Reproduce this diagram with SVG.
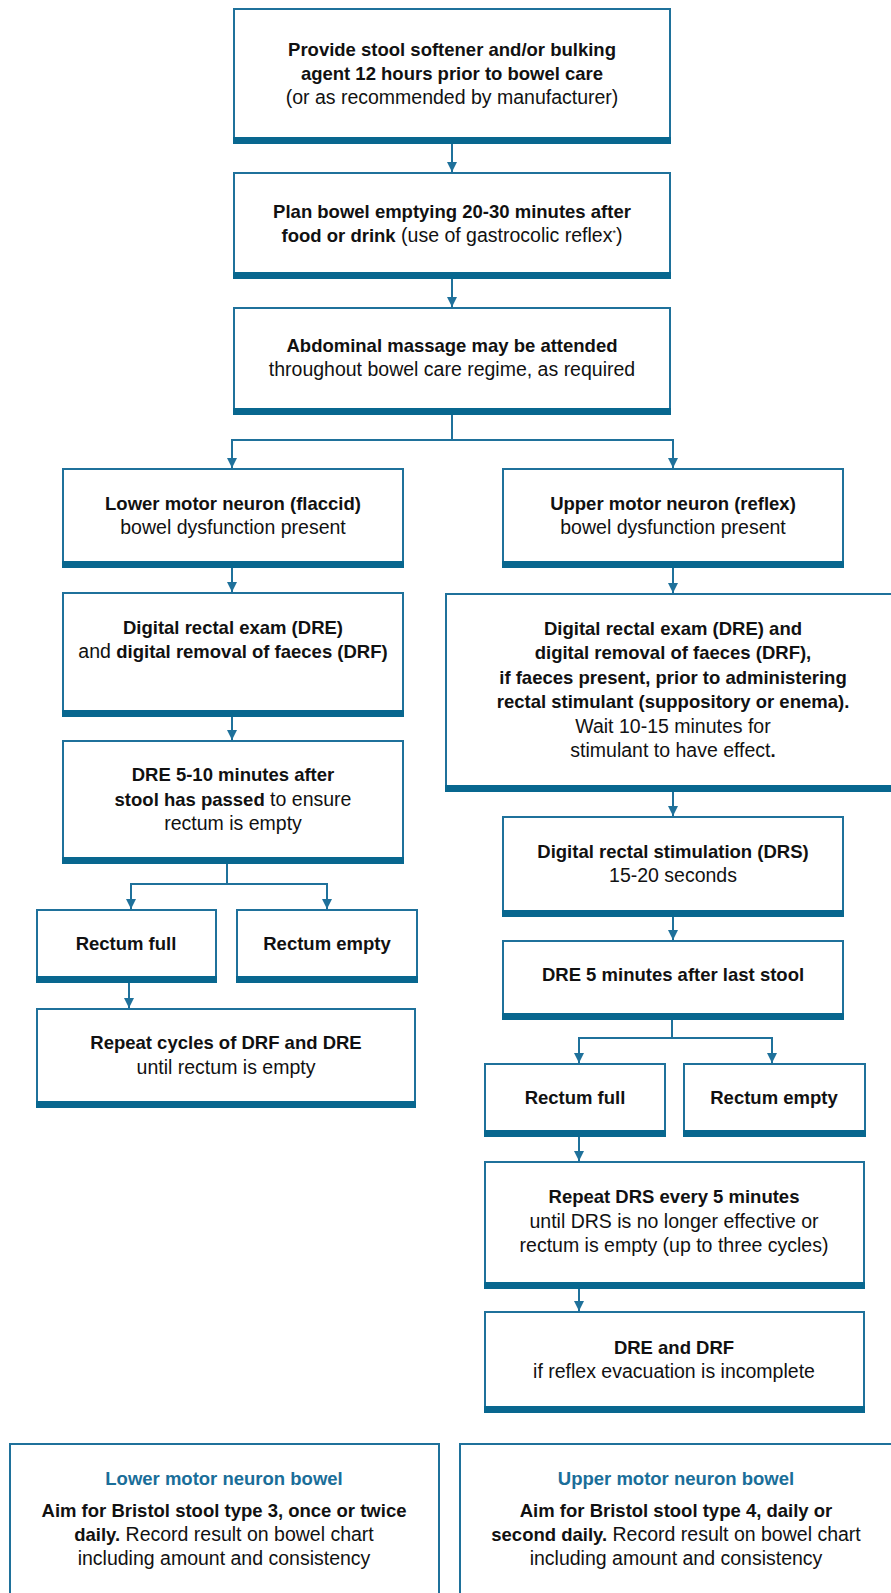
<svg xmlns="http://www.w3.org/2000/svg" width="891" height="1593" viewBox="0 0 891 1593">
<defs>
<style>
.box{fill:#fff;stroke:#1f719b;stroke-width:2}
.bar{fill:#08678f}
.ln{fill:none;stroke:#1f719b;stroke-width:2}
text{font-family:"Liberation Sans",Arial,sans-serif;text-anchor:middle;fill:#111}
.b{font-weight:bold;font-size:18.5px}
.r{font-weight:normal;font-size:19.5px}
.t{fill:#1a6e99}
tspan.bb{font-weight:bold;font-size:18.5px}
tspan.rr{font-weight:normal;font-size:19.5px}
</style>
<marker id="ah" markerUnits="userSpaceOnUse" markerWidth="10" markerHeight="10" refX="10" refY="5" orient="auto">
<path d="M0,0 L10,5 L0,10 Z" fill="#1f719b"/>
</marker>
</defs>
<rect width="891" height="1593" fill="#fff"/>
<g id="connectors">
<path class="ln" d="M452,144 V172" marker-end="url(#ah)"/>
<path class="ln" d="M452,279 V307" marker-end="url(#ah)"/>
<path class="ln" d="M452,415 V440 M232,440 H673"/>
<path class="ln" d="M232,439 V468" marker-end="url(#ah)"/>
<path class="ln" d="M673,439 V468" marker-end="url(#ah)"/>
<path class="ln" d="M232,568 V592" marker-end="url(#ah)"/>
<path class="ln" d="M232,717 V740" marker-end="url(#ah)"/>
<path class="ln" d="M673,568 V593" marker-end="url(#ah)"/>
<path class="ln" d="M673,792 V816" marker-end="url(#ah)"/>
<path class="ln" d="M227,864 V884 M131,884 H327"/>
<path class="ln" d="M131,883 V909" marker-end="url(#ah)"/>
<path class="ln" d="M327,883 V909" marker-end="url(#ah)"/>
<path class="ln" d="M129,983 V1008" marker-end="url(#ah)"/>
<path class="ln" d="M673,917 V940" marker-end="url(#ah)"/>
<path class="ln" d="M672,1020 V1038 M579,1038 H772"/>
<path class="ln" d="M579,1037 V1063" marker-end="url(#ah)"/>
<path class="ln" d="M772,1037 V1063" marker-end="url(#ah)"/>
<path class="ln" d="M579,1137 V1161" marker-end="url(#ah)"/>
<path class="ln" d="M579,1289 V1311" marker-end="url(#ah)"/>
</g>
<g id="n1">
<rect class="box" x="234" y="9" width="436" height="130"/>
<rect class="bar" x="233" y="137" width="438" height="7"/>
<text class="b" x="452" y="56">Provide stool softener and/or bulking</text>
<text class="b" x="452" y="80">agent 12 hours prior to bowel care</text>
<text class="r" x="452" y="104">(or as recommended by manufacturer)</text>
</g>
<g id="n2">
<rect class="box" x="234" y="173" width="436" height="101"/>
<rect class="bar" x="233" y="272" width="438" height="7"/>
<text class="b" x="452" y="218">Plan bowel emptying 20-30 minutes after</text>
<text x="452" y="242"><tspan class="bb">food or drink</tspan><tspan class="rr"> (use of gastrocolic reflex</tspan><tspan font-size="9" dy="-6">*</tspan><tspan class="rr" dy="6">)</tspan></text>
</g>
<g id="n3">
<rect class="box" x="234" y="308" width="436" height="102"/>
<rect class="bar" x="233" y="408" width="438" height="7"/>
<text class="b" x="452" y="352">Abdominal massage may be attended</text>
<text class="r" x="452" y="376">throughout bowel care regime, as required</text>
</g>
<g id="n4">
<rect class="box" x="63" y="469" width="340" height="94"/>
<rect class="bar" x="62" y="561" width="342" height="7"/>
<text class="b" x="233" y="510">Lower motor neuron (flaccid)</text>
<text class="r" x="233" y="534">bowel dysfunction present</text>
</g>
<g id="n5">
<rect class="box" x="63" y="593" width="340" height="119"/>
<rect class="bar" x="62" y="710" width="342" height="7"/>
<text class="b" x="233" y="634">Digital rectal exam (DRE)</text>
<text x="233" y="658"><tspan class="rr">and </tspan><tspan class="bb">digital removal of faeces (DRF)</tspan></text>
</g>
<g id="n6">
<rect class="box" x="63" y="741" width="340" height="118"/>
<rect class="bar" x="62" y="857" width="342" height="7"/>
<text class="b" x="233" y="781">DRE 5-10 minutes after</text>
<text x="233" y="806"><tspan class="bb">stool has passed</tspan><tspan class="rr"> to ensure</tspan></text>
<text class="r" x="233" y="830">rectum is empty</text>
</g>
<g id="n7">
<rect class="box" x="37" y="910" width="179" height="68"/>
<rect class="bar" x="36" y="976" width="181" height="7"/>
<text class="b" x="126" y="950">Rectum full</text>
</g>
<g id="n8">
<rect class="box" x="237" y="910" width="180" height="68"/>
<rect class="bar" x="236" y="976" width="182" height="7"/>
<text class="b" x="327" y="950">Rectum empty</text>
</g>
<g id="n9">
<rect class="box" x="37" y="1009" width="378" height="94"/>
<rect class="bar" x="36" y="1101" width="380" height="7"/>
<text class="b" x="226" y="1049">Repeat cycles of DRF and DRE</text>
<text class="r" x="226" y="1074">until rectum is empty</text>
</g>
<g id="n10">
<rect class="box" x="503" y="469" width="340" height="94"/>
<rect class="bar" x="502" y="561" width="342" height="7"/>
<text class="b" x="673" y="510">Upper motor neuron (reflex)</text>
<text class="r" x="673" y="534">bowel dysfunction present</text>
</g>
<g id="n11">
<rect class="box" x="446" y="594" width="450" height="193"/>
<rect class="bar" x="445" y="785" width="452" height="7"/>
<text class="b" x="673" y="635">Digital rectal exam (DRE) and</text>
<text class="b" x="673" y="659">digital removal of faeces (DRF),</text>
<text class="b" x="673" y="684">if faeces present, prior to administering</text>
<text class="b" x="673" y="708">rectal stimulant (suppository or enema).</text>
<text class="r" x="673" y="733">Wait 10-15 minutes for</text>
<text x="673" y="757"><tspan class="rr">stimulant to have effect</tspan><tspan class="bb">.</tspan></text>
</g>
<g id="n12">
<rect class="box" x="503" y="817" width="340" height="95"/>
<rect class="bar" x="502" y="910" width="342" height="7"/>
<text class="b" x="673" y="858">Digital rectal stimulation (DRS)</text>
<text class="r" x="673" y="882">15-20 seconds</text>
</g>
<g id="n13">
<rect class="box" x="503" y="941" width="340" height="74"/>
<rect class="bar" x="502" y="1013" width="342" height="7"/>
<text class="b" x="673" y="981">DRE 5 minutes after last stool</text>
</g>
<g id="n14">
<rect class="box" x="485" y="1064" width="180" height="68"/>
<rect class="bar" x="484" y="1130" width="182" height="7"/>
<text class="b" x="575" y="1104">Rectum full</text>
</g>
<g id="n15">
<rect class="box" x="684" y="1064" width="181" height="68"/>
<rect class="bar" x="683" y="1130" width="183" height="7"/>
<text class="b" x="774" y="1104">Rectum empty</text>
</g>
<g id="n16">
<rect class="box" x="485" y="1162" width="379" height="122"/>
<rect class="bar" x="484" y="1282" width="381" height="7"/>
<text class="b" x="674" y="1203">Repeat DRS every 5 minutes</text>
<text class="r" x="674" y="1228">until DRS is no longer effective or</text>
<text class="r" x="674" y="1252">rectum is empty (up to three cycles)</text>
</g>
<g id="n17">
<rect class="box" x="485" y="1312" width="379" height="96"/>
<rect class="bar" x="484" y="1406" width="381" height="7"/>
<text class="b" x="674" y="1354">DRE and DRF</text>
<text class="r" x="674" y="1378">if reflex evacuation is incomplete</text>
</g>
<g id="n18">
<rect class="box" x="10" y="1444" width="429" height="170"/>
<text class="b t" x="224" y="1485">Lower motor neuron bowel</text>
<text class="b" x="224" y="1517">Aim for Bristol stool type 3, once or twice</text>
<text x="224" y="1541"><tspan class="bb">daily.</tspan><tspan class="rr"> Record result on bowel chart</tspan></text>
<text class="r" x="224" y="1565">including amount and consistency</text>
</g>
<g id="n19">
<rect class="box" x="460" y="1444" width="436" height="170"/>
<text class="b t" x="676" y="1485">Upper motor neuron bowel</text>
<text class="b" x="676" y="1517">Aim for Bristol stool type 4, daily or</text>
<text x="676" y="1541"><tspan class="bb">second daily.</tspan><tspan class="rr"> Record result on bowel chart</tspan></text>
<text class="r" x="676" y="1565">including amount and consistency</text>
</g>
</svg>
